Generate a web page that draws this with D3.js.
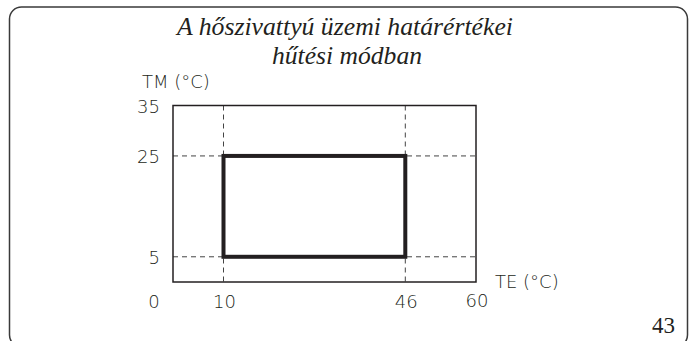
<!DOCTYPE html>
<html>
<head>
<meta charset="utf-8">
<script src="https://cdn.jsdelivr.net/npm/d3@7"></script>
<style>
  body { margin: 0; background: #fff; }
</style>
</head>
<body>
<div id="container1"></div>
<script>
// chart data
const titleLines = ['A hőszivattyú üzemi határértékei', 'hűtési módban'];
const xTicks = [0, 10, 46, 60];
const yTicks = [5, 25, 35];
const xGuides = [10, 46];
const yGuides = [5, 25];
const teRange = [10, 46];   // TE (°C)
const tmRange = [5, 25];    // TM (°C)
const pageNumber = '43';

const maxWidth = 689;
const maxHeight = 341;
const ink = '#231f20';

const svg = d3.select('div#container1')
    .append('svg')
    .attr('width', maxWidth)
    .attr('height', maxHeight)
    .style('display', 'block');

// page frame, runs off the bottom
svg.append('rect')
    .attr('x', 9.5)
    .attr('y', 7)
    .attr('width', 678)
    .attr('height', 340)
    .attr('rx', 12)
    .style('fill', 'none')
    .style('stroke', '#3a3a3a')
    .style('stroke-width', 1.5);

// title
const titleWidths = [336, 150];
svg.selectAll('.title')
    .data(titleLines)
    .enter()
    .append('text')
    .classed('title', true)
    .attr('x', (d, i) => i === 0 ? 177 : 272)
    .attr('y', (d, i) => 35 + i * 29)
    .attr('textLength', (d, i) => titleWidths[i])
    .attr('lengthAdjust', 'spacingAndGlyphs')
    .attr('font-family', 'Liberation Serif, serif')
    .attr('font-style', 'italic')
    .attr('font-size', '25px')
    .attr('fill', ink)
    .text(d => d);

const xScale = d3.scaleLinear().domain([0, 60]).range([173, 476]);
const yScale = d3.scaleLinear().domain([0, 35]).range([282, 105.5]);

const plot = svg.append('g');

// dashed guides
plot.selectAll('.vguide')
    .data(xGuides)
    .enter()
    .append('line')
    .attr('x1', d => xScale(d))
    .attr('x2', d => xScale(d))
    .attr('y1', yScale(35))
    .attr('y2', yScale(0))
    .style('stroke', '#444')
    .style('stroke-width', 1)
    .style('stroke-dasharray', '5,4');

plot.selectAll('.hguide')
    .data(yGuides)
    .enter()
    .append('line')
    .attr('x1', xScale(0))
    .attr('x2', xScale(60))
    .attr('y1', d => yScale(d))
    .attr('y2', d => yScale(d))
    .style('stroke', '#444')
    .style('stroke-width', 1)
    .style('stroke-dasharray', '5,4');

// plot frame
plot.append('rect')
    .attr('x', xScale(0))
    .attr('y', yScale(35))
    .attr('width', xScale(60) - xScale(0))
    .attr('height', yScale(0) - yScale(35))
    .style('fill', 'none')
    .style('stroke', ink)
    .style('stroke-width', 1.5);

// operating envelope
plot.append('rect')
    .attr('x', xScale(teRange[0]))
    .attr('y', yScale(tmRange[1]))
    .attr('width', xScale(teRange[1]) - xScale(teRange[0]))
    .attr('height', yScale(tmRange[0]) - yScale(tmRange[1]))
    .style('fill', 'none')
    .style('stroke', ink)
    .style('stroke-width', 4);

const labelFont = 'DejaVu Sans, sans-serif';

function label(sel) {
    sel.attr('font-family', labelFont)
        .attr('font-weight', 200)
        .attr('font-size', '18px')
        .attr('fill', ink);
}

// y tick labels
plot.selectAll('.ylab')
    .data(yTicks)
    .enter()
    .append('text')
    .attr('x', 160)
    .attr('y', d => yScale(d) + 7)
    .attr('text-anchor', 'end')
    .call(label)
    .text(d => d);

// x tick labels
plot.selectAll('.xlab')
    .data(xTicks)
    .enter()
    .append('text')
    .attr('x', d => d === 0 ? 154 : xScale(d) + 1)
    .attr('y', d => d === 60 ? 307 : 308)
    .attr('text-anchor', 'middle')
    .call(label)
    .text(d => d);

// axis titles
svg.append('text')
    .attr('x', 142)
    .attr('y', 88)
    .call(label)
    .text('TM (°C)');

svg.append('text')
    .attr('x', 495)
    .attr('y', 288)
    .call(label)
    .text('TE (°C)');

// page number
svg.append('text')
    .attr('x', 675)
    .attr('y', 333)
    .attr('text-anchor', 'end')
    .attr('font-family', 'Liberation Serif, serif')
    .attr('font-size', '23px')
    .attr('fill', ink)
    .text(pageNumber);
</script>
</body>
</html>
